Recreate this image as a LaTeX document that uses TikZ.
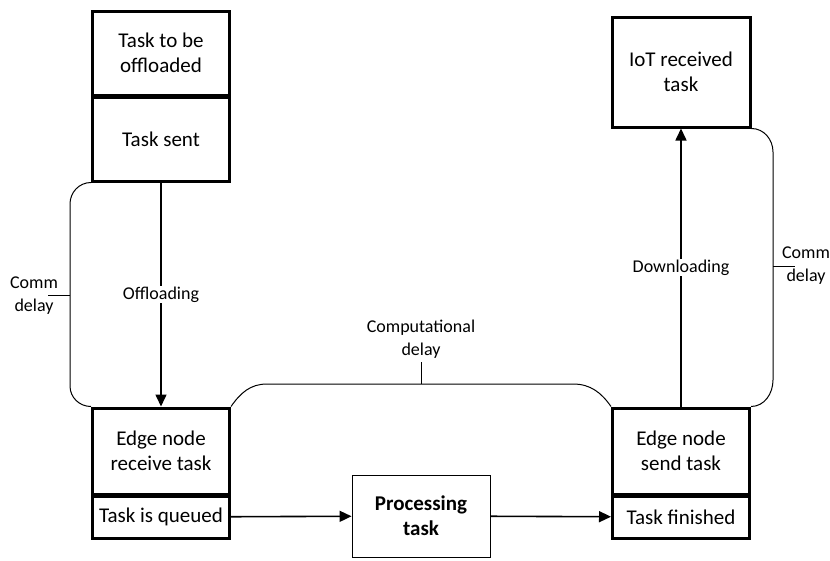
\documentclass[tikz,border=0pt]{standalone}
\usepackage{fontspec}
\setmainfont{Carlito}
\usetikzlibrary{positioning,arrows.meta}

\begin{document}
\begin{tikzpicture}[x=1pt, y=-1pt,
  main/.style = {draw, rectangle, line width=3pt, minimum width=137pt, align=center, font=\fontsize{21}{25}\selectfont},
  procbox/.style = {draw, rectangle, line width=0.9pt, minimum width=138pt, minimum height=82pt, align=center, font=\bfseries\fontsize{21}{25}\selectfont},
  lbl/.style = {align=center, font=\fontsize{18}{23}\selectfont, inner sep=1pt},
  flow/.style = {line width=1.6pt, -{Triangle[length=12pt,width=11pt]}},
  delay/.style = {line width=1pt}]
		\useasboundingbox (0,0) rectangle (830,560);
		% left column
		\node[main, minimum height=84pt] (offload) at (161,53) {Task to be\\offloaded};
		\node[main, minimum height=84pt] (sent) [below=-1pt of offload] {Task sent};
		\node[main, minimum height=86pt] (recv) at (161,451) {Edge node\\receive task};
		\node[main, minimum height=42pt] (queued) [below=-1pt of recv] {Task is queued};
		% middle
		\node[procbox] (proc) at (421,516) {Processing\\task};
		% right column
		\node[main, minimum height=86pt] (sendt) at (681,451) {Edge node\\send task};
		\node[main, minimum height=42pt] (finished) [below=-1pt of sendt] {Task finished};
		\node[main, minimum width=138pt, minimum height=110pt] (iot) at (681,72) {IoT received\\task};
		% flows
		\draw[flow] (sent) -- node[lbl, fill=white] (offl) {Offloading} (recv);
		\draw[flow] (sendt) -- node[lbl, fill=white] (downl) {Downloading} (iot);
		\draw[flow] (queued) -- (proc);
		\draw[flow] (proc) -- (finished);
		% delays
		\coordinate (cl) at (70,295);
		\coordinate (cl2) at (48,295);
		\coordinate (cr) at (773,266);
		\coordinate (cr2) at (795,266);
		\coordinate (cc) at (421,384);
		\coordinate (cc2) at (421,362);
		\draw[delay] (sent.south west) to[out=180,in=90] (70,204) -- (cl) -- (70,386) to[out=-90,in=180] (recv.north west);
		\draw[delay] (iot.south east) to[out=0,in=90] (773,152) -- (cr) -- (773,380) to[out=-90,in=0] (sendt.north east);
		\draw[delay] (recv.north east) to[out=55,in=180] (267,384) -- (cc) -- (573,384) to[out=0,in=125] (sendt.north west);
		\draw[delay] (cl) -- (cl2);
		\draw[delay] (cr) -- (cr2);
		\draw[delay] (cc) -- (cc2);
		\node[lbl] (commL) at (34,296) {Comm\\delay};
		\node[lbl] (commR) at (806,266) {Comm\\delay};
		\node[lbl] (compd) at (421,339) {Computational\\delay};
\end{tikzpicture}
\end{document}
